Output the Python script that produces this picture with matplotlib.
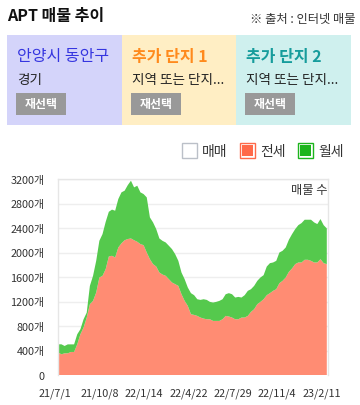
import matplotlib
matplotlib.use("Agg")
import matplotlib.pyplot as plt
import matplotlib.transforms as mtransforms
from matplotlib.patches import Rectangle
import pandas as pd

plt.rcParams['font.family'] = ['Noto Sans CJK KR', 'DejaVu Sans']

# ---------------- data ----------------
start_date = "2021-07-01"
jeonse = [365, 338, 354, 354, 376, 376, 501, 665, 774, 938,
          1156, 1210, 1346, 1592, 1619, 1728, 1935, 1946, 1919, 2082,
          2150, 2200, 2220, 2229, 2200, 2175, 2137, 2120, 2000, 1891,
          1810, 1771, 1673, 1640, 1619, 1564, 1510, 1483, 1455, 1319,
          1210, 1128, 992, 981, 965, 938, 921, 910, 910, 883,
          883, 883, 910, 965, 955, 938, 910, 910, 938, 938,
          965, 1030, 1074, 1156, 1194, 1237, 1303, 1336, 1374, 1401,
          1499, 1537, 1592, 1684, 1739, 1810, 1837, 1837, 1881, 1881,
          1864, 1837, 1837, 1891, 1826, 1810]
total = [501, 501, 474, 500, 500, 500, 665, 747, 910, 1019,
         1455, 1619, 1864, 2191, 2300, 2500, 2665, 2700, 2682, 2873,
         2982, 3009, 3100, 3172, 3063, 3090, 2982, 2954, 2900, 2573,
         2491, 2382, 2229, 2190, 2164, 2110, 2055, 1973, 1864, 1673,
         1564, 1428, 1336, 1303, 1237, 1226, 1237, 1226, 1194, 1183,
         1194, 1210, 1237, 1319, 1336, 1319, 1265, 1275, 1265, 1303,
         1374, 1401, 1455, 1537, 1592, 1630, 1771, 1826, 1837, 1864,
         2000, 2028, 2082, 2208, 2300, 2382, 2447, 2480, 2535, 2535,
         2535, 2491, 2464, 2546, 2447, 2393]
wolse = [t - j for t, j in zip(total, jeonse)]
dates = pd.date_range(start_date, periods=len(jeonse), freq="7D")

y_ticks = [0, 400, 800, 1200, 1600, 2000, 2400, 2800, 3200]
y_labels = ["0"] + [f"{v}개" for v in y_ticks[1:]]
x_tick_dates = ["2021-07-01", "2021-10-08", "2022-01-14", "2022-04-22",
                "2022-07-29", "2022-11-04", "2023-02-11"]
x_tick_labels = ["21/7/1", "21/10/8", "22/1/14", "22/4/22",
                 "22/7/29", "22/11/4", "23/2/11"]

panel_titles = ["안양시 동안구", "추가 단지 1", "추가 단지 2"]
panel_subs = ["경기", "지역 또는 단지...", "지역 또는 단지..."]
legend_labels = ["매매", "전세", "월세"]

# ---------------- figure ----------------
W, H = 360, 406
fig = plt.figure(figsize=(W / 100, H / 100), dpi=100)

def fx(x):
    return x / W

def fy(y):
    return 1 - y / H

# title & source
fig.text(fx(7), fy(16), "APT 매물 추이", fontsize=11.5, fontweight="bold",
         color="#111111", va="center", ha="left")
fig.text(fx(356), fy(20), "※ 출처 : 인터넷 매물", fontsize=8.8, color="#333333",
         va="center", ha="right")

# panels
panel_x = [7, 122, 236, 351]
panel_bg = ["#D4D4FA", "#FFEEC4", "#CFF0EE"]
title_colors = ["#3535E0", "#FF8A1C", "#169C9C"]
title_weights = ["normal", "bold", "bold"]
for i in range(3):
    x0, x1 = panel_x[i], panel_x[i + 1]
    fig.patches.append(Rectangle((fx(x0), fy(126)), fx(x1 - x0), (126 - 36) / H,
                                 transform=fig.transFigure, facecolor=panel_bg[i],
                                 edgecolor="none", zorder=0))
    fig.text(fx(x0 + 10), fy(57), panel_titles[i], fontsize=11.5,
             color=title_colors[i], fontweight=title_weights[i], va="center", ha="left")
    fig.text(fx(x0 + 10), fy(80), panel_subs[i], fontsize=9.8, color="#222222",
             va="center", ha="left")
    fig.patches.append(Rectangle((fx(x0 + 9), fy(116)), fx(50), 22 / H,
                                 transform=fig.transFigure, facecolor="#999999",
                                 edgecolor="none", zorder=1))
    fig.text(fx(x0 + 34), fy(105), "재선택", fontsize=8.6, color="white",
             fontweight="bold", va="center", ha="center")

# legend
leg_box_x = [182, 240, 298]
leg_colors = [("#BBC0C8", "white"), ("#FF6A4A", "#FF6A4A"), ("#1DB51D", "#1DB51D")]
for i in range(3):
    bx = leg_box_x[i]
    ec, fc = leg_colors[i]
    fig.patches.append(Rectangle((fx(bx), fy(159)), fx(15), 15 / H,
                                 transform=fig.transFigure, facecolor="white",
                                 edgecolor=ec, lw=1, zorder=2))
    if i > 0:
        fig.patches.append(Rectangle((fx(bx + 2), fy(157)), fx(11), 11 / H,
                                     transform=fig.transFigure, facecolor=fc,
                                     edgecolor="none", zorder=3))
    fig.text(fx(bx + 20), fy(152), legend_labels[i], fontsize=10, color="#333333",
             va="center", ha="left")

# chart axes
ax_left, ax_right, ax_top, ax_bottom = 58.3, 327.7, 180, 376
ax = fig.add_axes([fx(ax_left), fy(ax_bottom), fx(ax_right - ax_left),
                   (ax_bottom - ax_top) / H])
ax.fill_between(dates, 0, jeonse, facecolor="#FF8C73",
                edgecolor="none", zorder=2)
top_stack = [j + w for j, w in zip(jeonse, wolse)]
ax.fill_between(dates, jeonse, top_stack, facecolor="#55C94D",
                edgecolor="none", zorder=2)

ax.set_ylim(0, 3200)
ax.set_xlim(pd.Timestamp(start_date), pd.Timestamp("2023-02-18"))
ax.set_yticks(y_ticks)
ax.set_yticklabels(y_labels)
ax.set_xticks(pd.to_datetime(x_tick_dates))
ax.set_xticklabels(x_tick_labels)
ax.tick_params(axis="both", length=0, labelsize=7.8, colors="#333333")
ax.tick_params(axis="y", pad=10)
ax.tick_params(axis="x", pad=9)
offset = mtransforms.ScaledTranslation(-3 / 100, 0, fig.dpi_scale_trans)
for lbl in ax.get_xticklabels():
    lbl.set_transform(lbl.get_transform() + offset)
ax.grid(axis="y", color="#EEEEEE", lw=1, zorder=0)
ax.set_axisbelow(True)
for side in ["left", "top", "right"]:
    ax.spines[side].set_color("#E6E6E6")
    ax.spines[side].set_linewidth(1)
ax.spines["bottom"].set_visible(False)

ax.text(0.998, 0.945, "매물 수", transform=ax.transAxes, fontsize=8.8,
        color="#333333", ha="right", va="center", zorder=5)

fig.savefig("out.png", dpi=100)
